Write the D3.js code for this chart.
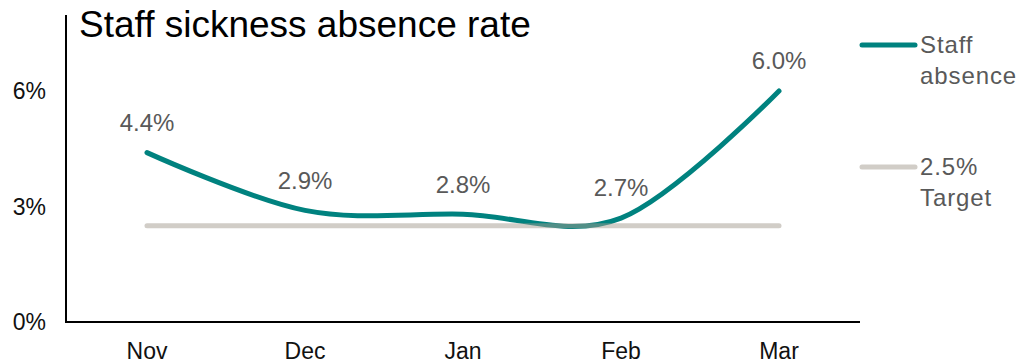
<!DOCTYPE html>
<html><head><meta charset="utf-8">
<script src="https://cdn.jsdelivr.net/npm/d3@7"></script>
<style>body{margin:0;background:#fff}svg{display:block;font-family:"Liberation Sans",Arial,sans-serif}</style>
</head><body><svg id="c" width="1019" height="363"></svg>
<script>
const months = ["Nov","Dec","Jan","Feb","Mar"];
const absence = [4.4, 2.9, 2.8, 2.7, 6.0];
const target = [2.5, 2.5, 2.5, 2.5, 2.5];
const yTicks = [0, 3, 6];
const title = "Staff sickness absence rate";
const legendItems = [["Staff","absence"],["2.5%","Target"]];

const svg = d3.select("#c");
const x = d3.scalePoint().domain(months).range([147, 779]);
const y = d3.scaleLinear().domain([0, 6]).range([322, 91]);

// axes
svg.append("line").attr("x1",66).attr("x2",66).attr("y1",15).attr("y2",323).attr("stroke","#000").attr("stroke-width",2);
svg.append("line").attr("x1",65).attr("x2",860).attr("y1",322).attr("y2",322).attr("stroke","#000").attr("stroke-width",2);

svg.selectAll(".yt").data(yTicks).enter().append("text")
  .attr("x",46).attr("y",d=>y(d)).attr("dy","0.35em").attr("text-anchor","end")
  .attr("font-size",23).attr("fill","#111").text(d=>d+"%");

svg.selectAll(".xt").data(months).enter().append("text")
  .attr("x",d=>x(d)).attr("y",358.5).attr("text-anchor","middle")
  .attr("font-size",23).attr("fill","#111").text(d=>d);

const line = d3.line().x((d,i)=>x(months[i])).y(d=>y(d)).curve(d3.curveCardinal.tension(0));
svg.append("path").datum(absence).attr("d",line).attr("fill","none")
  .attr("stroke","#00827F").attr("stroke-width",5).attr("stroke-linecap","round");
svg.append("path").datum(target).attr("d",d3.line().x((d,i)=>x(months[i])).y(d=>y(d))).attr("fill","none")
  .attr("stroke","#A39B90").attr("stroke-opacity",0.5).attr("stroke-width",5).attr("stroke-linecap","round");

svg.selectAll(".dl").data(absence).enter().append("text")
  .attr("x",(d,i)=>x(months[i])).attr("y",d=>y(d)-30).attr("dy","0.35em").attr("text-anchor","middle")
  .attr("font-size",24).attr("fill","#595959").text(d=>d.toFixed(1)+"%");

svg.append("text").attr("x",79).attr("y",37).attr("font-size",37).attr("fill","#000").text(title);

// legend
const lg = [{c:"#00827F",o:1,y:45},{c:"#A39B90",o:0.5,y:167}];
lg.forEach((l,i)=>{
  svg.append("line").attr("x1",862).attr("x2",915).attr("y1",l.y).attr("y2",l.y)
    .attr("stroke",l.c).attr("stroke-opacity",l.o).attr("stroke-width",5).attr("stroke-linecap","round");
  svg.append("text").attr("x",920).attr("y",l.y).attr("dy","0.35em").attr("font-size",24)
    .attr("letter-spacing",0.9).attr("fill","#595959").text(legendItems[i][0]);
  svg.append("text").attr("x",920).attr("y",l.y+30.5).attr("dy","0.35em").attr("font-size",24)
    .attr("letter-spacing",0.9).attr("fill","#595959").text(legendItems[i][1]);
});
</script></body></html>
